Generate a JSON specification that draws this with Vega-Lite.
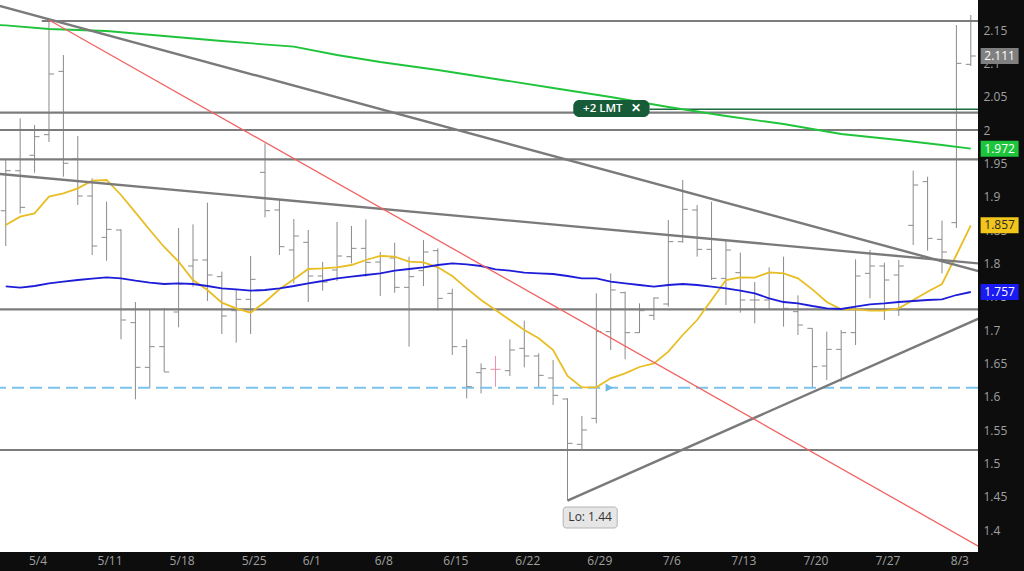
{
  "$schema": "https://vega.github.io/schema/vega-lite/v6.json",
  "width": 978,
  "height": 552,
  "autosize": {"type": "none"},
  "padding": {"left": 0, "top": 0, "right": 46, "bottom": 19},
  "background": "#0d0d0d",
  "config": {
    "view": {"fill": "#ffffff", "stroke": null},
    "axisY": {"labelOverlap": false, "labelFlush": false, "grid": false, "ticks": false, "domain": false, "labelColor": "#a0a0a0", "labelFont": "Open Sans", "labelFontSize": 12, "labelPadding": 5, "labelAlign": "left", "title": null},
    "axisX": {"labelOverlap": false, "labelFlush": false, "grid": false, "ticks": false, "domain": false, "labelColor": "#a0a0a0", "labelFont": "Open Sans", "labelFontSize": 12, "labelPadding": 3, "title": null}
  },
  "datasets": {
    "bars": [
      {"i":0,"d":"4/30","o":1.879,"h":1.955,"l":1.826,"c":1.939},
      {"i":1,"d":"5/1","o":1.939,"h":2.0175,"l":1.875,"c":1.884},
      {"i":2,"d":"5/4","o":1.962,"h":2.0075,"l":1.936,"c":1.990},
      {"i":3,"d":"5/5","o":1.993,"h":2.165,"l":1.982,"c":2.084},
      {"i":4,"d":"5/6","o":2.088,"h":2.1125,"l":1.930,"c":1.950},
      {"i":5,"d":"5/7","o":1.957,"h":1.991,"l":1.8875,"c":1.901},
      {"i":6,"d":"5/8","o":1.901,"h":1.9275,"l":1.8125,"c":1.826},
      {"i":7,"d":"5/11","o":1.839,"h":1.8925,"l":1.804,"c":1.851},
      {"i":8,"d":"5/12","o":1.850,"h":1.851,"l":1.686,"c":1.715},
      {"i":9,"d":"5/13","o":1.711,"h":1.742,"l":1.596,"c":1.644},
      {"i":10,"d":"5/14","o":1.644,"h":1.730,"l":1.6125,"c":1.675},
      {"i":11,"d":"5/15","o":1.675,"h":1.733,"l":1.637,"c":1.637},
      {"i":12,"d":"5/18","o":1.727,"h":1.853,"l":1.704,"c":1.769},
      {"i":13,"d":"5/19","o":1.796,"h":1.8585,"l":1.765,"c":1.805},
      {"i":14,"d":"5/20","o":1.805,"h":1.891,"l":1.7435,"c":1.7825},
      {"i":15,"d":"5/21","o":1.780,"h":1.7875,"l":1.694,"c":1.721},
      {"i":16,"d":"5/22","o":1.729,"h":1.760,"l":1.681,"c":1.746},
      {"i":17,"d":"5/26","o":1.746,"h":1.811,"l":1.694,"c":1.776},
      {"i":18,"d":"5/27","o":1.9365,"h":1.980,"l":1.869,"c":1.879},
      {"i":19,"d":"5/28","o":1.880,"h":1.8965,"l":1.8125,"c":1.825},
      {"i":20,"d":"5/29","o":1.820,"h":1.8665,"l":1.770,"c":1.841},
      {"i":21,"d":"6/1","o":1.8315,"h":1.850,"l":1.742,"c":1.781},
      {"i":22,"d":"6/2","o":1.781,"h":1.802,"l":1.759,"c":1.772},
      {"i":23,"d":"6/3","o":1.790,"h":1.862,"l":1.7735,"c":1.811},
      {"i":24,"d":"6/4","o":1.810,"h":1.856,"l":1.800,"c":1.8225},
      {"i":25,"d":"6/5","o":1.8225,"h":1.866,"l":1.780,"c":1.8015},
      {"i":26,"d":"6/8","o":1.802,"h":1.817,"l":1.751,"c":1.811},
      {"i":27,"d":"6/9","o":1.808,"h":1.831,"l":1.756,"c":1.764},
      {"i":28,"d":"6/10","o":1.764,"h":1.810,"l":1.675,"c":1.780},
      {"i":29,"d":"6/11","o":1.789,"h":1.835,"l":1.766,"c":1.817},
      {"i":30,"d":"6/12","o":1.819,"h":1.8225,"l":1.729,"c":1.7475},
      {"i":31,"d":"6/15","o":1.755,"h":1.762,"l":1.6625,"c":1.675},
      {"i":32,"d":"6/16","o":1.675,"h":1.686,"l":1.5975,"c":1.615},
      {"i":33,"d":"6/17","o":1.636,"h":1.650,"l":1.605,"c":1.642},
      {"i":34,"d":"6/18","o":1.641,"h":1.661,"l":1.615,"c":1.641},
      {"i":35,"d":"6/19","o":1.639,"h":1.686,"l":1.631,"c":1.670},
      {"i":36,"d":"6/22","o":1.6725,"h":1.714,"l":1.644,"c":1.661},
      {"i":37,"d":"6/23","o":1.661,"h":1.665,"l":1.614,"c":1.632},
      {"i":38,"d":"6/24","o":1.628,"h":1.655,"l":1.5875,"c":1.602},
      {"i":39,"d":"6/25","o":1.5965,"h":1.5975,"l":1.444,"c":1.530},
      {"i":40,"d":"6/26","o":1.5285,"h":1.571,"l":1.5185,"c":1.550},
      {"i":41,"d":"6/29","o":1.5675,"h":1.755,"l":1.560,"c":1.6975},
      {"i":42,"d":"6/30","o":1.6975,"h":1.785,"l":1.670,"c":1.760},
      {"i":43,"d":"7/1","o":1.756,"h":1.7575,"l":1.656,"c":1.696},
      {"i":44,"d":"7/2","o":1.696,"h":1.740,"l":1.6955,"c":1.729},
      {"i":45,"d":"7/3","o":1.722,"h":1.749,"l":1.715,"c":1.748},
      {"i":46,"d":"7/6","o":1.739,"h":1.865,"l":1.735,"c":1.8325},
      {"i":47,"d":"7/7","o":1.8325,"h":1.925,"l":1.831,"c":1.881},
      {"i":48,"d":"7/8","o":1.880,"h":1.8875,"l":1.810,"c":1.821},
      {"i":49,"d":"7/9","o":1.821,"h":1.8925,"l":1.775,"c":1.7775},
      {"i":50,"d":"7/10","o":1.7775,"h":1.835,"l":1.7375,"c":1.820},
      {"i":51,"d":"7/13","o":1.786,"h":1.816,"l":1.726,"c":1.745},
      {"i":52,"d":"7/14","o":1.745,"h":1.772,"l":1.710,"c":1.745},
      {"i":53,"d":"7/15","o":1.745,"h":1.794,"l":1.731,"c":1.786},
      {"i":54,"d":"7/16","o":1.785,"h":1.810,"l":1.705,"c":1.7325},
      {"i":55,"d":"7/17","o":1.7275,"h":1.752,"l":1.6925,"c":1.7075},
      {"i":56,"d":"7/20","o":1.7025,"h":1.7025,"l":1.6125,"c":1.645},
      {"i":57,"d":"7/21","o":1.646,"h":1.6975,"l":1.625,"c":1.671},
      {"i":58,"d":"7/22","o":1.671,"h":1.700,"l":1.6225,"c":1.696},
      {"i":59,"d":"7/23","o":1.696,"h":1.806,"l":1.6775,"c":1.781},
      {"i":60,"d":"7/24","o":1.785,"h":1.820,"l":1.7475,"c":1.796},
      {"i":61,"d":"7/27","o":1.796,"h":1.801,"l":1.715,"c":1.775},
      {"i":62,"d":"7/28","o":1.7825,"h":1.805,"l":1.721,"c":1.796},
      {"i":63,"d":"7/29","o":1.857,"h":1.939,"l":1.8275,"c":1.9175},
      {"i":64,"d":"7/30","o":1.9225,"h":1.930,"l":1.819,"c":1.8375},
      {"i":65,"d":"7/31","o":1.836,"h":1.864,"l":1.785,"c":1.817},
      {"i":66,"d":"8/3","o":1.861,"h":2.1575,"l":1.853,"c":2.100},
      {"i":67,"d":"8/4","o":2.0985,"h":2.1725,"l":2.096,"c":2.111}
    ],
    "ma": [
      {"s":"ma5","i":0,"v":1.8575},{"s":"ma5","i":1,"v":1.870},{"s":"ma5","i":2,"v":1.875},{"s":"ma5","i":3,"v":1.900},
      {"s":"ma5","i":4,"v":1.905},{"s":"ma5","i":5,"v":1.9125},{"s":"ma5","i":6,"v":1.924},{"s":"ma5","i":7,"v":1.925},
      {"s":"ma5","i":8,"v":1.9025},{"s":"ma5","i":9,"v":1.8765},{"s":"ma5","i":10,"v":1.850},{"s":"ma5","i":11,"v":1.8245},
      {"s":"ma5","i":12,"v":1.8025},{"s":"ma5","i":13,"v":1.775},{"s":"ma5","i":14,"v":1.760},{"s":"ma5","i":15,"v":1.741},
      {"s":"ma5","i":16,"v":1.7325},{"s":"ma5","i":17,"v":1.726},{"s":"ma5","i":18,"v":1.742},{"s":"ma5","i":19,"v":1.761},
      {"s":"ma5","i":20,"v":1.776},{"s":"ma5","i":21,"v":1.7915},{"s":"ma5","i":22,"v":1.7925},{"s":"ma5","i":23,"v":1.794},
      {"s":"ma5","i":24,"v":1.7975},{"s":"ma5","i":25,"v":1.805},{"s":"ma5","i":26,"v":1.811},{"s":"ma5","i":27,"v":1.810},
      {"s":"ma5","i":28,"v":1.8025},{"s":"ma5","i":29,"v":1.8015},{"s":"ma5","i":30,"v":1.794},{"s":"ma5","i":31,"v":1.781},
      {"s":"ma5","i":32,"v":1.7625},{"s":"ma5","i":33,"v":1.745},{"s":"ma5","i":34,"v":1.730},{"s":"ma5","i":35,"v":1.715},
      {"s":"ma5","i":36,"v":1.700},{"s":"ma5","i":37,"v":1.6875},{"s":"ma5","i":38,"v":1.670},{"s":"ma5","i":39,"v":1.631},
      {"s":"ma5","i":40,"v":1.614},{"s":"ma5","i":41,"v":1.614},{"s":"ma5","i":42,"v":1.6275},{"s":"ma5","i":43,"v":1.635},
      {"s":"ma5","i":44,"v":1.6445},{"s":"ma5","i":45,"v":1.650},{"s":"ma5","i":46,"v":1.6675},{"s":"ma5","i":47,"v":1.6925},
      {"s":"ma5","i":48,"v":1.715},{"s":"ma5","i":49,"v":1.745},{"s":"ma5","i":50,"v":1.775},{"s":"ma5","i":51,"v":1.779},
      {"s":"ma5","i":52,"v":1.7785},{"s":"ma5","i":53,"v":1.7865},{"s":"ma5","i":54,"v":1.785},{"s":"ma5","i":55,"v":1.7775},
      {"s":"ma5","i":56,"v":1.761},{"s":"ma5","i":57,"v":1.742},{"s":"ma5","i":58,"v":1.731},{"s":"ma5","i":59,"v":1.731},
      {"s":"ma5","i":60,"v":1.729},{"s":"ma5","i":61,"v":1.729},{"s":"ma5","i":62,"v":1.7325},{"s":"ma5","i":63,"v":1.745},
      {"s":"ma5","i":64,"v":1.7575},{"s":"ma5","i":65,"v":1.769},{"s":"ma5","i":66,"v":1.8125},{"s":"ma5","i":67,"v":1.857},
      {"s":"ma20","i":0,"v":1.7655},{"s":"ma20","i":1,"v":1.7635},{"s":"ma20","i":2,"v":1.766},{"s":"ma20","i":3,"v":1.770},
      {"s":"ma20","i":4,"v":1.7725},{"s":"ma20","i":5,"v":1.775},{"s":"ma20","i":6,"v":1.777},{"s":"ma20","i":7,"v":1.779},
      {"s":"ma20","i":8,"v":1.7775},{"s":"ma20","i":9,"v":1.774},{"s":"ma20","i":10,"v":1.771},{"s":"ma20","i":11,"v":1.769},
      {"s":"ma20","i":12,"v":1.770},{"s":"ma20","i":13,"v":1.769},{"s":"ma20","i":14,"v":1.766},{"s":"ma20","i":15,"v":1.7625},
      {"s":"ma20","i":16,"v":1.761},{"s":"ma20","i":17,"v":1.759},{"s":"ma20","i":18,"v":1.760},{"s":"ma20","i":19,"v":1.7625},
      {"s":"ma20","i":20,"v":1.766},{"s":"ma20","i":21,"v":1.770},{"s":"ma20","i":22,"v":1.7735},{"s":"ma20","i":23,"v":1.7775},
      {"s":"ma20","i":24,"v":1.780},{"s":"ma20","i":25,"v":1.7825},{"s":"ma20","i":26,"v":1.785},{"s":"ma20","i":27,"v":1.789},
      {"s":"ma20","i":28,"v":1.7915},{"s":"ma20","i":29,"v":1.794},{"s":"ma20","i":30,"v":1.7975},{"s":"ma20","i":31,"v":1.800},
      {"s":"ma20","i":32,"v":1.7985},{"s":"ma20","i":33,"v":1.796},{"s":"ma20","i":34,"v":1.791},{"s":"ma20","i":35,"v":1.789},
      {"s":"ma20","i":36,"v":1.786},{"s":"ma20","i":37,"v":1.785},{"s":"ma20","i":38,"v":1.784},{"s":"ma20","i":39,"v":1.781},
      {"s":"ma20","i":40,"v":1.7775},{"s":"ma20","i":41,"v":1.7775},{"s":"ma20","i":42,"v":1.7725},{"s":"ma20","i":43,"v":1.770},
      {"s":"ma20","i":44,"v":1.7675},{"s":"ma20","i":45,"v":1.765},{"s":"ma20","i":46,"v":1.7675},{"s":"ma20","i":47,"v":1.769},
      {"s":"ma20","i":48,"v":1.7675},{"s":"ma20","i":49,"v":1.765},{"s":"ma20","i":50,"v":1.7625},{"s":"ma20","i":51,"v":1.759},
      {"s":"ma20","i":52,"v":1.755},{"s":"ma20","i":53,"v":1.7475},{"s":"ma20","i":54,"v":1.742},{"s":"ma20","i":55,"v":1.740},
      {"s":"ma20","i":56,"v":1.736},{"s":"ma20","i":57,"v":1.7325},{"s":"ma20","i":58,"v":1.7315},{"s":"ma20","i":59,"v":1.735},
      {"s":"ma20","i":60,"v":1.7385},{"s":"ma20","i":61,"v":1.740},{"s":"ma20","i":62,"v":1.742},{"s":"ma20","i":63,"v":1.7435},
      {"s":"ma20","i":64,"v":1.745},{"s":"ma20","i":65,"v":1.746},{"s":"ma20","i":66,"v":1.7525},{"s":"ma20","i":67,"v":1.757},
      {"s":"ma200","i":-1,"v":2.158},{"s":"ma200","i":0,"v":2.157},{"s":"ma200","i":3,"v":2.1515},{"s":"ma200","i":7,"v":2.1485},
      {"s":"ma200","i":11,"v":2.141},{"s":"ma200","i":15,"v":2.1335},{"s":"ma200","i":20,"v":2.125},{"s":"ma200","i":23,"v":2.1125},
      {"s":"ma200","i":26,"v":2.102},{"s":"ma200","i":30,"v":2.090},{"s":"ma200","i":34,"v":2.0765},{"s":"ma200","i":38,"v":2.063},
      {"s":"ma200","i":42,"v":2.0495},{"s":"ma200","i":46,"v":2.0345},{"s":"ma200","i":50,"v":2.021},{"s":"ma200","i":54,"v":2.009},
      {"s":"ma200","i":58,"v":1.994},{"s":"ma200","i":62,"v":1.985},{"s":"ma200","i":65,"v":1.9775},{"s":"ma200","i":67,"v":1.972}
    ],
    "trend": [
      {"seg":"a","i":-1,"v":2.1895},{"seg":"a","i":68,"v":1.7855},
      {"seg":"b","i":-1,"v":1.9352},{"seg":"b","i":68,"v":1.799},
      {"seg":"c","i":39,"v":1.444},{"seg":"c","i":68,"v":1.7215}
    ],
    "red": [{"i":3,"v":2.165},{"i":68,"v":1.370}],
    "levels": [{"v":2.026},{"v":2.0},{"v":1.956},{"v":1.731},{"v":1.52}],
    "badges": [
      {"s":"px","v":2.111,"t":"2.111"},
      {"s":"ma200","v":1.972,"t":"1.972"},
      {"s":"ma5","v":1.857,"t":"1.857"},
      {"s":"ma20","v":1.757,"t":"1.757"}
    ]
  },
  "layer": [
    {
      "data": {"name": "bars"},
      "mark": {"type": "rule", "strokeWidth": 1},
      "encoding": {
        "x": {"field": "i", "type": "quantitative", "scale": {"domain": [-0.4, 67.5], "nice": false, "zero": false},
          "axis": {"orient": "bottom", "values": [2,7,12,17,21,26,31,36,41,46,51,56,61,66],
            "labelExpr": "['5/4','5/11','5/18','5/25','6/1','6/8','6/15','6/22','6/29','7/6','7/13','7/20','7/27','8/3'][indexof([2,7,12,17,21,26,31,36,41,46,51,56,61,66], datum.value)]",
            "labelOffset": 3}},
        "y": {"field": "l", "type": "quantitative", "scale": {"domain": [1.367, 2.195], "nice": false, "zero": false},
          "axis": {"orient": "right", "values": [1.4,1.45,1.5,1.55,1.6,1.65,1.7,1.75,1.8,1.85,1.9,1.95,2,2.05,2.1,2.15], "format": "~g"}},
        "y2": {"field": "h"},
        "color": {"condition": {"test": "datum.i === 34", "value": "#ef8ea5"}, "value": "#8a8a8a"}
      }
    },
    {
      "data": {"name": "levels"},
      "mark": {"type": "rule", "color": "#7c7c7c", "strokeWidth": 2.2},
      "encoding": {
        "y": {"field": "v", "type": "quantitative", "scale": {"domain": [1.367, 2.195], "nice": false, "zero": false},
          "axis": {"orient": "right", "values": [1.4,1.45,1.5,1.55,1.6,1.65,1.7,1.75,1.8,1.85,1.9,1.95,2,2.05,2.1,2.15], "format": "~g"}}
      }
    },
    {
      "data": {"values": [{"v": 2.1635}]},
      "mark": {"type": "rule", "color": "#7c7c7c", "strokeWidth": 2.2},
      "encoding": {
        "x": {"datum": 2.5, "type": "quantitative", "scale": {"domain": [-0.4, 67.5], "nice": false, "zero": false}},
        "x2": {"datum": 67.5},
        "y": {"field": "v", "type": "quantitative", "scale": {"domain": [1.367, 2.195], "nice": false, "zero": false},
          "axis": {"orient": "right", "values": [1.4,1.45,1.5,1.55,1.6,1.65,1.7,1.75,1.8,1.85,1.9,1.95,2,2.05,2.1,2.15], "format": "~g"}}
      }
    },
    {
      "data": {"values": [{"v": 1.6135}]},
      "mark": {"type": "rule", "color": "#7cc2ea", "strokeWidth": 2, "strokeDash": [12, 6]},
      "encoding": {
        "y": {"field": "v", "type": "quantitative", "scale": {"domain": [1.367, 2.195], "nice": false, "zero": false},
          "axis": {"orient": "right", "values": [1.4,1.45,1.5,1.55,1.6,1.65,1.7,1.75,1.8,1.85,1.9,1.95,2,2.05,2.1,2.15], "format": "~g"}}
      }
    },
    {
      "data": {"values": [{"v": 2.031}]},
      "mark": {"type": "rule", "color": "#1c6a40", "strokeWidth": 1.5},
      "encoding": {
        "x": {"datum": 44.7, "type": "quantitative", "scale": {"domain": [-0.4, 67.5], "nice": false, "zero": false}},
        "x2": {"datum": 67.5},
        "y": {"field": "v", "type": "quantitative", "scale": {"domain": [1.367, 2.195], "nice": false, "zero": false},
          "axis": {"orient": "right", "values": [1.4,1.45,1.5,1.55,1.6,1.65,1.7,1.75,1.8,1.85,1.9,1.95,2,2.05,2.1,2.15], "format": "~g"}}
      }
    },
    {
      "data": {"name": "bars"},
      "mark": {"type": "tick", "orient": "horizontal", "size": 5, "thickness": 1, "xOffset": -2.5, "opacity": 1},
      "encoding": {
        "x": {"field": "i", "type": "quantitative", "scale": {"domain": [-0.4, 67.5], "nice": false, "zero": false}},
        "y": {"field": "o", "type": "quantitative", "scale": {"domain": [1.367, 2.195], "nice": false, "zero": false},
          "axis": {"orient": "right", "values": [1.4,1.45,1.5,1.55,1.6,1.65,1.7,1.75,1.8,1.85,1.9,1.95,2,2.05,2.1,2.15], "format": "~g"}},
        "color": {"condition": {"test": "datum.i === 34", "value": "#ef8ea5"}, "value": "#8a8a8a"}
      }
    },
    {
      "data": {"name": "bars"},
      "mark": {"type": "tick", "orient": "horizontal", "size": 5, "thickness": 1, "xOffset": 2.5, "opacity": 1},
      "encoding": {
        "x": {"field": "i", "type": "quantitative", "scale": {"domain": [-0.4, 67.5], "nice": false, "zero": false}},
        "y": {"field": "c", "type": "quantitative", "scale": {"domain": [1.367, 2.195], "nice": false, "zero": false},
          "axis": {"orient": "right", "values": [1.4,1.45,1.5,1.55,1.6,1.65,1.7,1.75,1.8,1.85,1.9,1.95,2,2.05,2.1,2.15], "format": "~g"}},
        "color": {"condition": {"test": "datum.i === 34", "value": "#ef8ea5"}, "value": "#8a8a8a"}
      }
    },
    {
      "data": {"name": "ma"},
      "mark": {"type": "line", "clip": true, "strokeWidth": 1.8},
      "encoding": {
        "x": {"field": "i", "type": "quantitative", "scale": {"domain": [-0.4, 67.5], "nice": false, "zero": false}},
        "y": {"field": "v", "type": "quantitative", "scale": {"domain": [1.367, 2.195], "nice": false, "zero": false},
          "axis": {"orient": "right", "values": [1.4,1.45,1.5,1.55,1.6,1.65,1.7,1.75,1.8,1.85,1.9,1.95,2,2.05,2.1,2.15], "format": "~g"}},
        "stroke": {"field": "s", "type": "nominal", "scale": {"domain": ["ma200", "ma5", "ma20"], "range": ["#1fc43b", "#e8be24", "#1d1dd8"]}, "legend": null},
        "strokeWidth": {"field": "s", "type": "nominal", "scale": {"domain": ["ma200", "ma5", "ma20"], "range": [2.2, 1.6, 2]}, "legend": null}
      }
    },
    {
      "data": {"name": "trend"},
      "mark": {"type": "line", "clip": true, "color": "#7a7a7a", "strokeWidth": 2.4},
      "encoding": {
        "x": {"field": "i", "type": "quantitative", "scale": {"domain": [-0.4, 67.5], "nice": false, "zero": false}},
        "y": {"field": "v", "type": "quantitative", "scale": {"domain": [1.367, 2.195], "nice": false, "zero": false},
          "axis": {"orient": "right", "values": [1.4,1.45,1.5,1.55,1.6,1.65,1.7,1.75,1.8,1.85,1.9,1.95,2,2.05,2.1,2.15], "format": "~g"}},
        "detail": {"field": "seg", "type": "nominal"}
      }
    },
    {
      "data": {"name": "red"},
      "mark": {"type": "line", "clip": true, "color": "#f26262", "strokeWidth": 1.3},
      "encoding": {
        "x": {"field": "i", "type": "quantitative", "scale": {"domain": [-0.4, 67.5], "nice": false, "zero": false}},
        "y": {"field": "v", "type": "quantitative", "scale": {"domain": [1.367, 2.195], "nice": false, "zero": false},
          "axis": {"orient": "right", "values": [1.4,1.45,1.5,1.55,1.6,1.65,1.7,1.75,1.8,1.85,1.9,1.95,2,2.05,2.1,2.15], "format": "~g"}}
      }
    },
    {
      "data": {"values": [{"i": 41.9, "v": 1.6135}]},
      "mark": {"type": "point", "shape": "triangle-right", "filled": true, "size": 70, "color": "#6db8e8", "opacity": 1},
      "encoding": {
        "x": {"field": "i", "type": "quantitative", "scale": {"domain": [-0.4, 67.5], "nice": false, "zero": false}},
        "y": {"field": "v", "type": "quantitative", "scale": {"domain": [1.367, 2.195], "nice": false, "zero": false},
          "axis": {"orient": "right", "values": [1.4,1.45,1.5,1.55,1.6,1.65,1.7,1.75,1.8,1.85,1.9,1.95,2,2.05,2.1,2.15], "format": "~g"}}
      }
    },
    {
      "data": {"values": [{"a": 39.4, "b": 44.7, "lo": 2.0195, "hi": 2.045}]},
      "mark": {"type": "rect", "color": "#175c38", "cornerRadius": 6},
      "encoding": {
        "x": {"field": "a", "type": "quantitative", "scale": {"domain": [-0.4, 67.5], "nice": false, "zero": false}},
        "x2": {"field": "b"},
        "y": {"field": "lo", "type": "quantitative", "scale": {"domain": [1.367, 2.195], "nice": false, "zero": false},
          "axis": {"orient": "right", "values": [1.4,1.45,1.5,1.55,1.6,1.65,1.7,1.75,1.8,1.85,1.9,1.95,2,2.05,2.1,2.15], "format": "~g"}},
        "y2": {"field": "hi"}
      }
    },
    {
      "data": {"values": [{"i": 41.45, "v": 2.032, "t": "+2 LMT"}, {"i": 43.75, "v": 2.032, "t": "✕"}]},
      "mark": {"type": "text", "color": "#ffffff", "font": "Open Sans", "fontSize": 11.5, "fontWeight": 600, "baseline": "middle", "align": "center"},
      "encoding": {
        "x": {"field": "i", "type": "quantitative", "scale": {"domain": [-0.4, 67.5], "nice": false, "zero": false}},
        "y": {"field": "v", "type": "quantitative", "scale": {"domain": [1.367, 2.195], "nice": false, "zero": false},
          "axis": {"orient": "right", "values": [1.4,1.45,1.5,1.55,1.6,1.65,1.7,1.75,1.8,1.85,1.9,1.95,2,2.05,2.1,2.15], "format": "~g"}},
        "text": {"field": "t"}
      }
    },
    {
      "data": {"values": [{"a": 38.7, "b": 42.45, "lo": 1.403, "hi": 1.4345}]},
      "mark": {"type": "rect", "color": "#e6e6e6", "stroke": "#b4b4b4", "strokeWidth": 1, "cornerRadius": 3},
      "encoding": {
        "x": {"field": "a", "type": "quantitative", "scale": {"domain": [-0.4, 67.5], "nice": false, "zero": false}},
        "x2": {"field": "b"},
        "y": {"field": "lo", "type": "quantitative", "scale": {"domain": [1.367, 2.195], "nice": false, "zero": false},
          "axis": {"orient": "right", "values": [1.4,1.45,1.5,1.55,1.6,1.65,1.7,1.75,1.8,1.85,1.9,1.95,2,2.05,2.1,2.15], "format": "~g"}},
        "y2": {"field": "hi"}
      }
    },
    {
      "data": {"values": [{"i": 40.57, "v": 1.419, "t": "Lo: 1.44"}]},
      "mark": {"type": "text", "color": "#333333", "font": "Open Sans", "fontSize": 12, "baseline": "middle", "align": "center"},
      "encoding": {
        "x": {"field": "i", "type": "quantitative", "scale": {"domain": [-0.4, 67.5], "nice": false, "zero": false}},
        "y": {"field": "v", "type": "quantitative", "scale": {"domain": [1.367, 2.195], "nice": false, "zero": false},
          "axis": {"orient": "right", "values": [1.4,1.45,1.5,1.55,1.6,1.65,1.7,1.75,1.8,1.85,1.9,1.95,2,2.05,2.1,2.15], "format": "~g"}},
        "text": {"field": "t"}
      }
    },
    {
      "data": {"name": "badges"},
      "mark": {"type": "point", "shape": "M-1,-0.42H1V0.42H-1Z", "filled": true, "size": 1444, "opacity": 1, "strokeWidth": 0, "clip": false},
      "encoding": {
        "x": {"datum": 69.0, "type": "quantitative", "scale": {"domain": [-0.4, 67.5], "nice": false, "zero": false}},
        "y": {"field": "v", "type": "quantitative", "scale": {"domain": [1.367, 2.195], "nice": false, "zero": false},
          "axis": {"orient": "right", "values": [1.4,1.45,1.5,1.55,1.6,1.65,1.7,1.75,1.8,1.85,1.9,1.95,2,2.05,2.1,2.15], "format": "~g"}},
        "fill": {"field": "s", "type": "nominal", "scale": {"domain": ["px", "ma200", "ma5", "ma20"], "range": ["#808080", "#1ec43c", "#f2c51c", "#1a1af2"]}, "legend": null}
      }
    },
    {
      "data": {"name": "badges"},
      "mark": {"type": "text", "font": "Open Sans", "fontSize": 12, "baseline": "middle", "align": "center", "clip": false},
      "encoding": {
        "x": {"datum": 69.0, "type": "quantitative", "scale": {"domain": [-0.4, 67.5], "nice": false, "zero": false}},
        "y": {"field": "v", "type": "quantitative", "scale": {"domain": [1.367, 2.195], "nice": false, "zero": false},
          "axis": {"orient": "right", "values": [1.4,1.45,1.5,1.55,1.6,1.65,1.7,1.75,1.8,1.85,1.9,1.95,2,2.05,2.1,2.15], "format": "~g"}},
        "text": {"field": "t"},
        "color": {"condition": {"test": "datum.s === 'ma5'", "value": "#2a2a2a"}, "value": "#ffffff"}
      }
    }
  ]
}
